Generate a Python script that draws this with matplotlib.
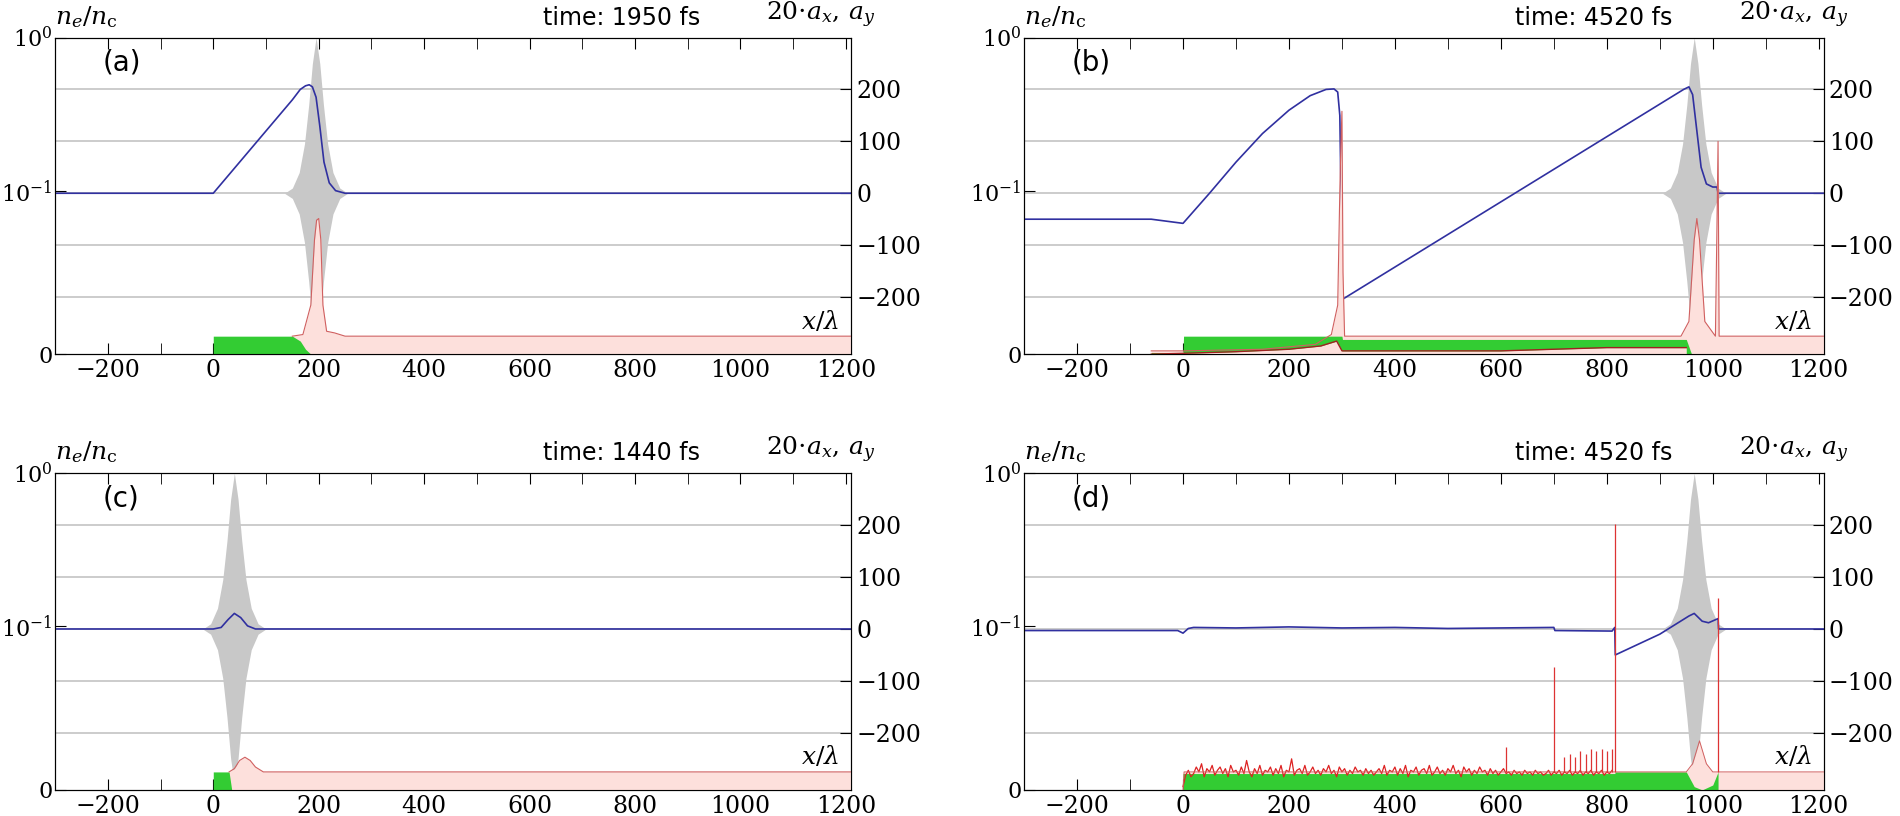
import numpy as np
import matplotlib
matplotlib.use("Agg")
import matplotlib.pyplot as plt

plt.rcParams['mathtext.fontset'] = 'dejavuserif'
plt.rcParams['font.family'] = 'DejaVu Serif'

# ---------------- data ----------------
panel_labels = ["(a)", "(b)", "(c)", "(d)"]
times = ["time: 1950 fs", "time: 4520 fs", "time: 1440 fs", "time: 4520 fs"]
xticks = [-200, 0, 200, 400, 600, 800, 1000, 1200]
right_ticks = [-200, -100, 0, 100, 200]

# laser envelope (a_y), offsets relative to centre, amplitude
env_off = [-60, -45, -32, -22, -14, -7, 0, 7, 14, 22, 32, 45, 60]
env_amp = [0, 10, 40, 95, 170, 250, 300, 250, 170, 95, 40, 10, 0]
env_centre = [195, 965, 40, 965]

# 20*a_x lines
ax_x = [
    [-300, 0, 150, 165, 175, 182, 188, 195, 202, 210, 220, 232, 250, 1210],
    [-300, -60, 0, 50, 100, 150, 200, 240, 270, 285, 292, 296, 298, 300, 945, 955, 962, 970, 978, 988, 1000, 1008, 1010, 1210],
    [-300, 0, 15, 28, 40, 52, 65, 80, 1210],
    [-300, -10, 0, 10, 20, 100, 200, 300, 400, 500, 600, 700, 702, 810, 815, 816, 900, 955, 965, 980, 992, 1010, 1011, 1210],
]
ax_y = [
    [0, 0, 180, 200, 207, 209, 205, 185, 130, 60, 20, 5, 0, 0],
    [-50, -50, -58, 0, 60, 115, 160, 188, 200, 201, 195, 150, 20, -205, 200, 205, 190, 120, 50, 18, 12, 12, 0, 0],
    [0, 0, 3, 18, 30, 22, 6, 0, 0],
    [-3, -3, -8, 1, 3, 2, 4, 2, 3, 1, 2, 3, -3, -4, 3, -50, -10, 25, 30, 15, 12, 20, 0, 0],
]

# electron density (green fill)
ne_x = [
    [0, 150, 165, 175, 185],
    [-60, 0, 1, 295, 300, 301, 950, 960],
    [0, 30, 35],
    [0, 815, 816, 950, 965, 980, 1000, 1010],
]
ne_y = [
    [0.011, 0.011, 0.008, 0.003, 0.0],
    [0.001, 0.001, 0.011, 0.011, 0.011, 0.009, 0.009, 0.0],
    [0.011, 0.011, 0.0],
    [0.010, 0.010, 0.011, 0.011, 0.002, 0.0, 0.003, 0.011],
]

# ion / total density (pink fill, red edge)
ni_x = [
    [150, 170, 185, 192, 196, 200, 204, 208, 215, 230, 250, 1210],
    [-60, 0, 150, 250, 280, 292, 296, 298, 300, 302, 305, 940, 955, 965, 970, 975, 985, 1005, 1008, 1010, 1012, 1210],
    [30, 40, 50, 60, 70, 80, 95, 1210],
    [0, 2, 815, 817, 950, 962, 975, 988, 1000, 1008, 1010, 1012, 1210],
]
ni_y = [
    [0.011, 0.012, 0.03, 0.07, 0.082, 0.083, 0.07, 0.03, 0.014, 0.013, 0.011, 0.011],
    [0.002, 0.002, 0.003, 0.006, 0.012, 0.03, 0.1, 0.2, 0.33, 0.05, 0.011, 0.011, 0.02, 0.07, 0.083, 0.07, 0.02, 0.011, 0.08, 0.21, 0.011, 0.011],
    [0.011, 0.013, 0.018, 0.02, 0.018, 0.014, 0.011, 0.011],
    [0.0, 0.011, 0.011, 0.011, 0.011, 0.016, 0.03, 0.016, 0.011, 0.011, 0.011, 0.011, 0.011],
]

# panel (b): dark red lower edge of electron layer
edge_b_x = [-60, 0, 100, 200, 260, 290, 300, 600, 800, 950]
edge_b_y = [0.0, 0.0005, 0.0015, 0.003, 0.005, 0.008, 0.002, 0.002, 0.004, 0.004]

# panel (d) noisy density 0..815
noise_x = list(range(0, 815, 5))
noise_y = [0.002, 0.009, 0.012, 0.008, 0.010, 0.014, 0.011, 0.016, 0.008, 0.013,
           0.011, 0.015, 0.009, 0.012, 0.014, 0.010, 0.013, 0.008, 0.015, 0.011,
           0.012, 0.009, 0.014, 0.010, 0.018, 0.011, 0.008, 0.013, 0.010, 0.015,
           0.009, 0.012, 0.011, 0.014, 0.009, 0.013, 0.010, 0.015, 0.008, 0.012,
           0.011, 0.019, 0.009, 0.012, 0.013, 0.010, 0.015, 0.009, 0.011, 0.014,
           0.010, 0.012, 0.009, 0.013, 0.011, 0.015, 0.010, 0.012, 0.008, 0.014,
           0.011, 0.013, 0.009, 0.012, 0.010, 0.014, 0.011, 0.012, 0.009, 0.013,
           0.010, 0.012, 0.009, 0.011, 0.013, 0.010, 0.015, 0.009, 0.012, 0.011,
           0.014, 0.009, 0.013, 0.010, 0.015, 0.008, 0.012, 0.011, 0.014, 0.009,
           0.012, 0.013, 0.010, 0.015, 0.009, 0.011, 0.014, 0.010, 0.012, 0.009,
           0.013, 0.011, 0.015, 0.010, 0.012, 0.008, 0.014, 0.011, 0.013, 0.009,
           0.012, 0.010, 0.014, 0.011, 0.012, 0.009, 0.013, 0.010, 0.012, 0.009,
           0.011, 0.013, 0.010, 0.011, 0.009, 0.012, 0.010, 0.011, 0.009, 0.012,
           0.010, 0.011, 0.009, 0.012, 0.010, 0.011, 0.009, 0.010, 0.012, 0.009,
           0.011, 0.010, 0.012, 0.009, 0.011, 0.010, 0.012, 0.009, 0.011, 0.010,
           0.012, 0.009, 0.011, 0.010, 0.012, 0.009, 0.011, 0.010, 0.012, 0.009,
           0.011, 0.010, 0.012]
# thin spikes in (d)
spike_x = [[], [], [], [610, 700, 720, 730, 740, 750, 760, 770, 780, 790, 800, 810, 815, 1010]]
spike_h = [[], [], [], [0.026, 0.075, 0.02, 0.022, 0.02, 0.024, 0.022, 0.025, 0.024, 0.025, 0.024, 0.025, 0.47, 0.154]]

# ---------------- plotting ----------------
fig = plt.figure(figsize=(19, 8.16), dpi=100)
positions = [[0.029, 0.566, 0.419, 0.388], [0.539, 0.566, 0.421, 0.388],
             [0.029, 0.032, 0.419, 0.388], [0.539, 0.032, 0.421, 0.388]]

for i in range(4):
    axf = fig.add_axes(positions[i])       # field axis (right ticks)
    axd = axf.twinx()                      # density axis (left ticks)
    axd.yaxis.tick_left()
    axf.yaxis.tick_right()
    axd.set_zorder(axf.get_zorder() + 1)
    axd.patch.set_visible(False)

    axf.set_xlim(-300, 1210)
    axf.set_ylim(-310, 300)
    axf.set_yticks(right_ticks)
    axf.set_yticklabels(["\u2212200", "\u2212100", "0", "100", "200"])
    for t in right_ticks:
        axf.axhline(t, color='#cccccc', lw=1.4, zorder=0)

    c = env_centre[i]
    ex = [c + o for o in env_off]
    axf.fill_between(ex, [-a for a in env_amp], env_amp, color='#c8c8c8', lw=0, zorder=1)
    axf.plot(ax_x[i], ax_y[i], color='#3030a0', lw=1.2, zorder=3)

    axd.set_yscale('symlog', linthresh=0.1, linscale=0.96)
    axd.set_ylim(0, 1)
    axd.set_yticks([0, 0.1, 1])
    axd.set_yticklabels(["0", "$10^{-1}$", "$10^{0}$"])
    axd.yaxis.set_minor_locator(matplotlib.ticker.NullLocator())

    axd.fill_between(ni_x[i], 0, ni_y[i], color='#fde0dc', lw=0, zorder=1)
    axd.fill_between(ne_x[i], 0, ne_y[i], color='#33cc33', lw=0, zorder=2)
    if i == 1:
        axd.fill_between(edge_b_x, 0, edge_b_y, color='#fde0dc', lw=0, zorder=2.5)
        axd.plot(edge_b_x, edge_b_y, color='#a02020', lw=1.0, zorder=3)
    if i == 3:
        axd.plot(noise_x, noise_y, color='#dd2222', lw=0.9, zorder=3)
        axd.plot(ni_x[i], ni_y[i], color='#d06060', lw=0.7, zorder=3)
    else:
        axd.plot(ni_x[i], ni_y[i], color='#d06060', lw=0.8, zorder=3)
    if spike_x[i]:
        axd.vlines(spike_x[i], 0.011, spike_h[i], color='#dd3333', lw=0.9, zorder=3)

    axf.set_xticks(xticks)
    axf.set_xticks(list(range(-300, 1210, 100)), minor=True)
    for a in (axf, axd):
        a.tick_params(direction='in', labelsize=17, length=8, top=True, which='both')
    axd.tick_params(axis='y', labelsize=16, pad=2)
    axf.set_xticklabels(["\u2212200", "0", "200", "400", "600", "800", "1000", "1200"])

    axf.text(0.06, 0.965, panel_labels[i], transform=axf.transAxes, fontsize=20,
             family='DejaVu Sans', ha='left', va='top', zorder=10)
    axf.text(0.0, 1.025, r"$n_e/n_\mathrm{c}$", transform=axf.transAxes, fontsize=18,
             ha='left', va='bottom')
    axf.text(0.81, 1.025, times[i], transform=axf.transAxes, fontsize=17,
             family='DejaVu Sans', ha='right', va='bottom')
    axf.text(1.03, 1.025, r"$20{\cdot}a_x,\, a_y$", transform=axf.transAxes, fontsize=18,
             ha='right', va='bottom')
    axf.text(0.985, 0.065, r"$x/\lambda$", transform=axf.transAxes, fontsize=18,
             ha='right', va='bottom', zorder=10)

fig.savefig("out.png", dpi=100)
